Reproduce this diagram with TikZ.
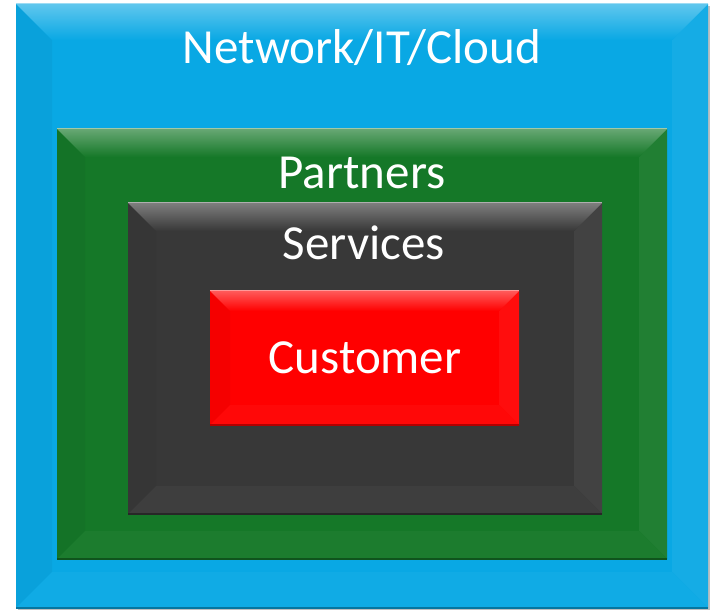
\documentclass[tikz,border=0pt]{standalone}
\usepackage{fontspec}
\setsansfont{Carlito}
\definecolor{netblue}{RGB}{9,168,228}
\definecolor{partgreen}{RGB}{21,120,40}
\definecolor{servgray}{RGB}{56,56,56}
\definecolor{custred}{RGB}{255,0,0}
\tikzset{every picture/.style={/utils/exec={\sffamily}}}
\usetikzlibrary{calc}
\usetikzlibrary{positioning}

\tikzset{
  layer/.style={rectangle, inner sep=0pt, outer sep=0pt},
  caption/.style={text=white, font=\fontsize{49}{56}\selectfont},
}

\begin{document}
\begin{tikzpicture}[x=1pt,y=1pt]
  \useasboundingbox (0,0) rectangle (717,611);

  % nested layers, outside in
  \fill [black!25] (18,1) rectangle (710,605);
  \node [layer, fill=netblue, minimum width=692pt, minimum height=604pt] at (362,305) (net) {};
  \node [layer, fill=partgreen, minimum width=610pt, minimum height=430pt] at (362,267) (part) {};
  \node [layer, fill=servgray, minimum width=474pt, minimum height=311pt] at (365,252.5) (serv) {};
  \node [layer, fill=custred, minimum width=309pt, minimum height=134pt] at (364.5,253) (cust) {};

  % bevelled edges
  \foreach \n/\b/\c in {net/36/netblue,part/28/partgreen,serv/28/servgray,cust/20/custred} {
    \fill [\c!96!black] (\n.north west) -- ($(\n.north west)+(\b,-\b)$)
      -- ($(\n.south west)+(\b,\b)$) -- (\n.south west) -- cycle;
    \fill [\c!95!white] (\n.north east) -- ($(\n.north east)+(-\b,-\b)$)
      -- ($(\n.south east)+(-\b,\b)$) -- (\n.south east) -- cycle;
    \fill [\c!97!white] (\n.south west) -- ($(\n.south west)+(\b,\b)$)
      -- ($(\n.south east)+(-\b,\b)$) -- (\n.south east) -- cycle;
    \shade [top color=\c!65!white, bottom color=\c] (\n.north west) -- (\n.north east)
      -- ($(\n.north east)+(-\b,-\b)$) -- ($(\n.north west)+(\b,-\b)$) -- cycle;
    \draw [\c!40!white, line width=1pt] (\n.north west) -- (\n.north east);
    \draw [\c!70!black, line width=1.5pt] (\n.south west) -- (\n.south east);
  }

  % labels
  \node [caption] at (362,563) (nettext) {Network/IT/Cloud};
  \node [caption] at (362,438) (parttext) {Partners};
  \node [caption] at (364,368) (servtext) {Services};
  \node [caption] at (365,253) (custtext) {Customer};
\end{tikzpicture}
\end{document}
